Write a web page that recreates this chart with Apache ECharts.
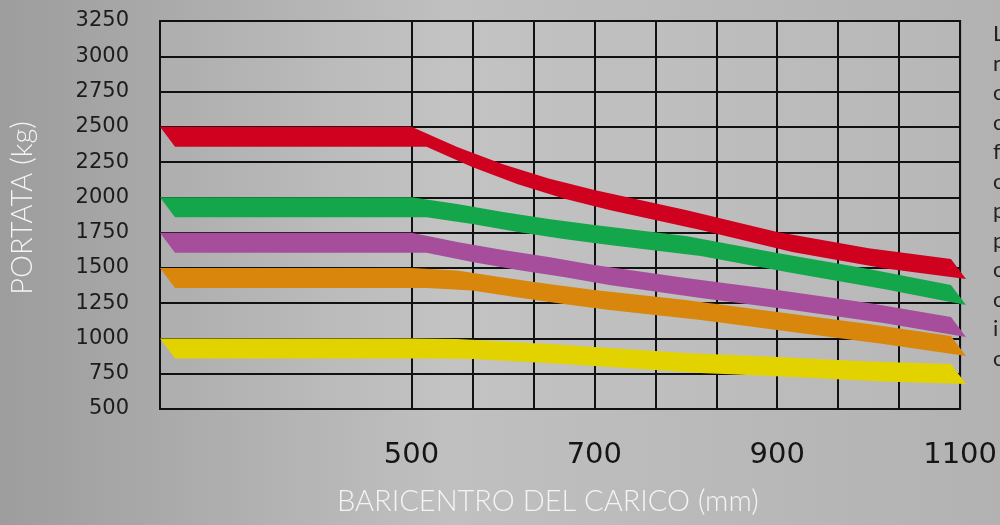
<!DOCTYPE html>
<html>
<head>
<meta charset="utf-8">
<script src="https://cdn.jsdelivr.net/npm/echarts@6/dist/echarts.min.js"></script>
<style>
  html, body { margin: 0; padding: 0; }
  #chart { width: 1000px; height: 525px; }
</style>
</head>
<body>
<div id="chart"></div>
<script>
// ---- data ----
const xPoints = [225, 500, 550, 600, 650, 700, 800, 900, 1000, 1090];       // baricentro (mm)
const redValues    = [2500, 2500, 2357, 2234, 2134, 2052, 1911, 1755, 1639, 1563];
const greenValues  = [2000, 2000, 1953, 1896, 1847, 1804, 1726, 1606, 1492, 1379];
const purpleValues = [1750, 1750, 1684, 1627, 1577, 1521, 1429, 1343, 1251, 1152];
const orangeValues = [1500, 1500, 1482, 1432, 1386, 1343, 1273, 1188, 1102, 1017];
const yellowValues = [1000, 1000,  996,  978,  961,  939,  897,  869,  837,  819];

const xGridValues  = [500, 566.67, 633.33, 700, 766.67, 833.33, 900, 966.67, 1033.33, 1100];
const xLabelValues = [500, 700, 900, 1100];
const yMin = 500, yMax = 3250, yStep = 250;
const xMin = 225, xMax = 1100;

const xAxisName = 'BARICENTRO DEL CARICO (mm)';
const yAxisName = 'PORTATA (kg)';
const sideLetters = ['L', 'n', 'c', 'c', 'f', 'c', 'p', 'p', 'c', 'c', 'i', 'c'];

const bands = [
  { name: 'red',    values: redValues,    color: '#d0001f' },
  { name: 'green',  values: greenValues,  color: '#14a64b' },
  { name: 'purple', values: purpleValues, color: '#a64d9c' },
  { name: 'orange', values: orangeValues, color: '#d8870c' },
  { name: 'yellow', values: yellowValues, color: '#e2d300' }
];

// ---- styling ----
const BAND_DX = 15;   // slant offset of the ribbon (px)
const BAND_TH = 20;   // ribbon thickness (px)
const FONT = 'Lato, "Noto Sans", sans-serif';
const NUM_FONT = '"DejaVu Sans", sans-serif';

const chart = echarts.init(document.getElementById('chart'), null, { renderer: 'canvas' });

function bandSeries(band) {
  const pts = xPoints.map((x, i) => [x, band.values[i]]);
  return {
    type: 'custom',
    name: band.name,
    clip: false,
    z: 5,
    data: pts,
    renderItem: function (params, api) {
      if (params.dataIndex !== 0) return null;
      const top = pts.map(p => api.coord(p));
      const bottom = top.map(c => [c[0] + BAND_DX, c[1] + BAND_TH]).reverse();
      return {
        type: 'polygon',
        shape: { points: top.concat(bottom) },
        style: { fill: band.color }
      };
    }
  };
}

const graphics = [
  {
    type: 'text', left: 337, top: 487,
    style: { text: xAxisName, fill: '#f4f4f4', font: '300 29px ' + FONT }
  },
  {
    type: 'text', x: 23, y: 208, rotation: Math.PI / 2,
    style: { text: yAxisName, fill: '#f4f4f4', font: '300 29px ' + FONT, align: 'center', verticalAlign: 'middle' }
  }
];
sideLetters.forEach((ch, i) => {
  graphics.push({
    type: 'text', x: 993, y: 34 + 29.5 * i,
    style: { text: ch, fill: '#222', font: '22px ' + FONT, verticalAlign: 'middle' }
  });
});

const option = {
  backgroundColor: {
    type: 'linear', x: 0, y: 0, x2: 1, y2: 0,
    colorStops: [
      { offset: 0, color: '#9d9d9d' },
      { offset: 0.45, color: '#c0c0c0' },
      { offset: 1, color: '#b2b2b2' }
    ]
  },
  animation: false,
  grid: {
    left: 160, right: 38, top: 21, bottom: 116,
    show: true, backgroundColor: 'rgba(255,255,255,0.06)',
    borderColor: '#111', borderWidth: 2
  },
  xAxis: {
    type: 'value', min: xMin, max: xMax,
    axisLine: { show: false },
    axisTick: { show: false, customValues: xGridValues },
    axisLabel: {
      customValues: xLabelValues, margin: 32,
      color: '#151515', fontSize: 29, fontFamily: NUM_FONT,
      formatter: v => String(v)
    },
    splitLine: { show: true, lineStyle: { color: '#111', width: 2 } }
  },
  yAxis: {
    type: 'value', min: yMin, max: yMax, interval: yStep,
    axisLine: { show: false },
    axisTick: { show: false },
    axisLabel: {
      margin: 31, color: '#1c1c1c', fontSize: 21, fontFamily: NUM_FONT,
      formatter: v => String(v)
    },
    splitLine: { show: true, lineStyle: { color: '#111', width: 2 } }
  },
  graphic: graphics,
  series: bands.map(bandSeries)
};

chart.setOption(option);
</script>
</body>
</html>
